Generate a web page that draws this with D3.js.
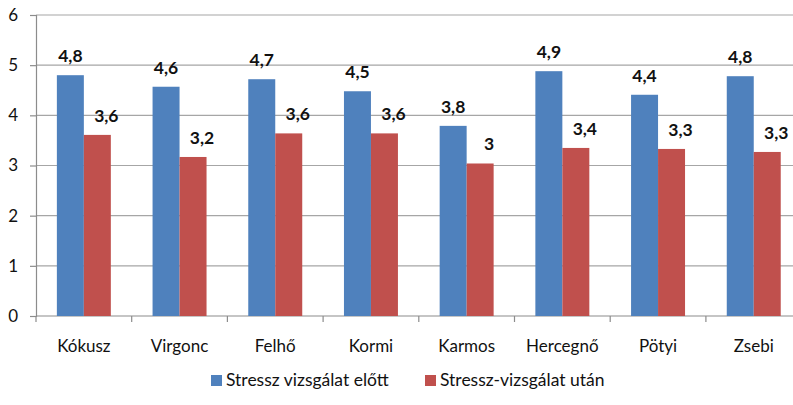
<!DOCTYPE html>
<html>
<head>
<meta charset="utf-8">
<script src="https://cdn.jsdelivr.net/npm/d3@7"></script>
<style>
  html, body { margin: 0; padding: 0; background: #fff; }
  svg { display: block; }
  text { font-family: Lato, "Open Sans", sans-serif; fill: #111; }
</style>
</head>
<body>
<div id="chart"></div>
<script>
(function () {
    'use strict';

    var categories = ['Kókusz', 'Virgonc', 'Felhő', 'Kormi', 'Karmos', 'Hercegnő', 'Pötyi', 'Zsebi'];
    var before = [4.80, 4.57, 4.72, 4.48, 3.79, 4.88, 4.41, 4.78];
    var after = [3.61, 3.17, 3.64, 3.64, 3.04, 3.35, 3.33, 3.27];
    var seriesNames = ['Stressz vizsgálat előtt', 'Stressz-vizsgálat után'];
    var yTicks = [0, 1, 2, 3, 4, 5, 6];

    var colors = ['#4f81bd', '#c0504d'];
    var width = 793, height = 405;
    var left = 36, right = 801.6, top = 15, bottom = 316;

    var svg = d3.select('#chart').append('svg')
        .attr('width', width)
        .attr('height', height);

    var x = d3.scaleBand()
        .domain(categories)
        .range([left, right])
        .paddingInner(0.436)
        .paddingOuter(0.218);
    var xs = d3.scaleBand().domain([0, 1]).range([0, x.bandwidth()]);
    var y = d3.scaleLinear().domain([0, 6]).range([bottom, top]);

    // gridlines
    svg.append('g')
        .selectAll('line')
        .data(yTicks.filter(function (d) { return d > 0; }))
        .enter().append('line')
        .attr('x1', left).attr('x2', width)
        .attr('y1', function (d) { return y(d); })
        .attr('y2', function (d) { return y(d); })
        .attr('stroke', '#a6a6a6')
        .attr('stroke-width', 1.2);

    // y axis
    var yAxis = svg.append('g')
        .attr('transform', 'translate(' + left + ',0)')
        .call(d3.axisLeft(y).tickValues(yTicks).tickFormat(d3.format('d')).tickSize(6).tickPadding(12));
    yAxis.select('.domain').attr('stroke', '#8c8c8c').attr('stroke-width', 1.2);
    yAxis.selectAll('.tick line').attr('stroke', '#8c8c8c').attr('stroke-width', 1.2);
    yAxis.selectAll('.tick text')
        .attr('font-size', 17)
        .style('font-family', 'Lato, sans-serif')
        .attr('fill', '#111');

    // x axis with boundary ticks
    var step = x.step();
    var bounds = d3.range(categories.length + 1).map(function (i) { return left + i * step; });
    svg.append('line')
        .attr('x1', left).attr('x2', width)
        .attr('y1', bottom).attr('y2', bottom)
        .attr('stroke', '#8c8c8c').attr('stroke-width', 1.2);
    svg.append('g').selectAll('line')
        .data(bounds)
        .enter().append('line')
        .attr('x1', function (d) { return d; })
        .attr('x2', function (d) { return d; })
        .attr('y1', bottom).attr('y2', bottom + 6)
        .attr('stroke', '#8c8c8c').attr('stroke-width', 1.2);
    svg.append('g').selectAll('text')
        .data(categories)
        .enter().append('text')
        .attr('x', function (d) { return x(d) + x.bandwidth() / 2; })
        .attr('y', 352)
        .attr('text-anchor', 'middle')
        .attr('font-size', 17)
        .text(function (d) { return d; });

    // bars
    var series = [before, after];
    var fmt = d3.format('.1~f');
    var labelShift = [0, 9];
    series.forEach(function (vals, s) {
        var g = svg.append('g');
        g.selectAll('rect')
            .data(vals)
            .enter().append('rect')
            .attr('x', function (d, i) { return x(categories[i]) + xs(s); })
            .attr('y', function (d) { return y(d); })
            .attr('width', xs.bandwidth())
            .attr('height', function (d) { return bottom - y(d); })
            .attr('fill', colors[s]);
        g.selectAll('text')
            .data(vals)
            .enter().append('text')
            .attr('x', function (d, i) { return x(categories[i]) + xs(s) + xs.bandwidth() / 2 + labelShift[s]; })
            .attr('y', function (d) { return y(d) - 13; })
            .attr('text-anchor', 'middle')
            .attr('font-size', 17.5)
            .attr('font-weight', 'bold')
            .text(function (d) { return fmt(d).replace('.', ','); });
    });

    // legend
    var legendX = [211, 425];
    var legend = svg.append('g').selectAll('g')
        .data(seriesNames)
        .enter().append('g')
        .attr('transform', function (d, i) { return 'translate(' + legendX[i] + ',375)'; });
    legend.append('rect')
        .attr('width', 11).attr('height', 11)
        .attr('fill', function (d, i) { return colors[i]; });
    legend.append('text')
        .attr('x', 15).attr('y', 11)
        .attr('font-size', 17.5)
        .text(function (d) { return d; });
}());
</script>
</body>
</html>
